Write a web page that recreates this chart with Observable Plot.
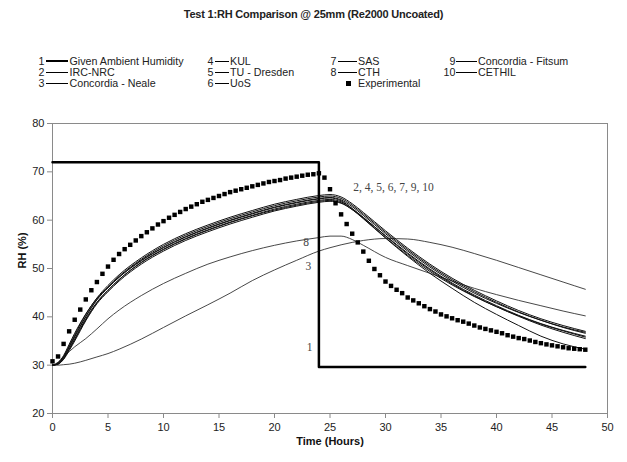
<!DOCTYPE html>
<html>
<head>
<meta charset="utf-8">
<script src="https://cdn.jsdelivr.net/npm/d3@7"></script>
<script src="https://cdn.jsdelivr.net/npm/@observablehq/plot@0.6"></script>
<style>
  html, body { margin: 0; padding: 0; background: #fff; }
  #page { position: relative; width: 627px; height: 462px; overflow: hidden; font-family: "Liberation Sans", Arial, sans-serif; color: #222; }
  #title { position: absolute; left: 0; width: 627px; top: 8px; text-align: center; font-weight: bold; font-size: 11px; letter-spacing: -0.2px; }
  .lg { position: absolute; font-size: 10.7px; line-height: 12px; white-space: nowrap; }
  .ln { position: absolute; height: 0; border-top: 1px solid #000; }
  #chart { position: absolute; left: 0; top: 100px; }
</style>
</head>
<body>
<div id="page">
  <div id="title">Test 1:RH Comparison @ 25mm (Re2000 Uncoated)</div>
  <div id="legend"></div>
  <div id="chart"></div>
</div>
<script>
// ---------- data ----------
const xTicks = [0, 5, 10, 15, 20, 25, 30, 35, 40, 45, 50];
const yTicks = [20, 30, 40, 50, 60, 70, 80];

const legendNums  = ["1", "2", "3", "4", "5", "6", "7", "8", "9", "10"];
const legendNames = ["Given Ambient Humidity", "IRC-NRC", "Concordia - Neale", "KUL", "TU - Dresden", "UoS", "SAS", "CTH", "Concordia - Fitsum", "CETHIL"];
const experimentalName = "Experimental";

// Given ambient humidity (step)
const ambientHours = [0, 24, 24, 48];
const ambientRH    = [72, 72, 29.6, 29.6];

// model time grid (hours)
const modelHours = [0, 0.5, 1, 1.5, 2, 3, 4, 5, 6, 8, 10, 12, 14, 16, 18, 20, 22, 24, 25, 26, 27, 28, 30, 32, 34, 36, 38, 40, 42, 44, 46, 48];

const rhIRC     = [30,30.4,31.8,34,36.3,40.5,43.9,46.5,48.7,52.2,55,57.2,59,60.6,62,63.3,64.3,65.1,65.3,64.8,63.4,61.6,57.8,54.2,50.9,48,45.5,43.3,41.3,39.6,38.2,37];
const rhNeale   = [30,30,30.1,30.2,30.4,31,31.7,32.4,33.3,35.4,37.8,40.2,42.5,44.9,47.5,49.7,51.7,53.6,54.3,54.9,55.4,55.8,56.2,56.1,55.4,54.4,53.1,51.7,50.2,48.7,47.2,45.7];
const rhKUL     = [30,30.2,31.2,33,35,39.2,42.7,45.2,47.4,50.9,53.6,55.8,57.6,59.2,60.6,61.9,62.9,63.7,63.9,63.5,62.2,60.5,56.8,53.2,49.9,47,44.5,42.3,40.3,38.6,37.2,36];
const rhTUD     = [30,30.5,32,34.3,36.6,40.6,43.8,46.1,48.2,51.6,54.3,56.5,58.3,59.9,61.3,62.6,63.6,64.4,64.6,64,62.4,60.4,56.4,52.7,49.4,46.6,44.2,42.1,40.2,38.5,37.1,35.8];
const rhUoS     = [30,30.2,31.3,33.3,35.4,39.6,43,45.5,47.7,51.2,53.9,56.1,57.9,59.5,60.9,62.1,63.1,63.9,64.1,63.6,62.2,60.3,56.3,52.5,49,45.9,43,40.5,38.2,36,34.4,33.3];
const rhSAS     = [30,30.3,31.6,33.7,35.8,40,43.5,46,48.2,51.7,54.4,56.6,58.4,60,61.4,62.7,63.7,64.5,64.7,64.2,62.8,61,57.2,53.6,50.3,47.4,44.9,42.8,40.9,39.3,37.9,36.8];
const rhCTH     = [30,30.6,31.8,32.8,33.8,35.5,37.5,39.6,41.4,44.4,46.9,49,50.9,52.4,53.7,54.8,55.7,56.4,56.7,56.7,56,54.8,52.3,50.6,49,47.4,45.9,44.6,43.4,42.3,41.2,40.2];
const rhFitsum  = [30,30.3,31.4,33.3,35.3,39.4,42.9,45.5,47.7,51.3,54,56.2,58,59.6,61,62.3,63.3,64.1,64.3,63.8,62.4,60.6,56.7,53,49.7,46.8,44.3,42.1,40.1,38.3,36.8,35.5];
const rhCETHIL  = [30,30.4,31.7,33.8,36,40.1,43.6,46.2,48.4,51.9,54.7,56.9,58.7,60.3,61.7,63,64,64.8,65,64.5,63.1,61.3,57.5,53.9,50.6,47.7,45.2,43,41,39.3,37.8,36.6];

// Experimental (every 0.5 h)
const expHours = [0,0.5,1,1.5,2,2.5,3,3.5,4,4.5,5,5.5,6,6.5,7,7.5,8,8.5,9,9.5,10,10.5,11,11.5,12,12.5,13,13.5,14,14.5,15,15.5,16,16.5,17,17.5,18,18.5,19,19.5,20,20.5,21,21.5,22,22.5,23,23.5,24,24.5,25,25.5,26,26.5,27,27.5,28,28.5,29,29.5,30,30.5,31,31.5,32,32.5,33,33.5,34,34.5,35,35.5,36,36.5,37,37.5,38,38.5,39,39.5,40,40.5,41,41.5,42,42.5,43,43.5,44,44.5,45,45.5,46,46.5,47,47.5,48];
const expRH = [30.8,31.8,34.4,37,39.4,41.5,43.6,45.5,47.2,48.9,50.4,51.8,53,54,54.9,55.8,56.7,57.5,58.3,59.1,59.8,60.5,61.1,61.7,62.3,62.8,63.3,63.8,64.2,64.6,65,65.4,65.8,66.1,66.4,66.7,67,67.3,67.6,67.9,68.1,68.3,68.6,68.8,69,69.2,69.4,69.5,69.7,
  68.8,66.4,63.5,61.2,59.2,57.2,55.4,53.5,51.6,49.9,48.6,47.3,46.4,45.6,44.9,44,43.4,42.8,42.2,41.6,41.1,40.5,40.1,39.7,39.3,39,38.6,38.2,37.8,37.5,37.2,36.9,36.6,36.2,35.9,35.6,35.4,35.1,34.8,34.55,34.3,34.1,33.9,33.7,33.5,33.4,33.3,33.2];

// curve annotations (data coordinates)
const noteTexts = ["2, 4, 5, 6, 7, 9, 10", "8", "3", "1"];
const noteHours = [27.1, 22.6, 22.8, 22.9];
const noteRH    = [66.9, 55.4, 50.4, 33.6];

// ---------- build tables ----------
const clusterSeries = [rhIRC, rhKUL, rhTUD, rhUoS, rhSAS, rhFitsum, rhCETHIL];
const toRows = (xs, ys) => xs.map((x, i) => ({x, y: ys[i]}));
const ambient = toRows(ambientHours, ambientRH);
const experimental = toRows(expHours, expRH);
const notes = noteTexts.map((t, i) => ({t, x: noteHours[i], y: noteRH[i]}));

// ---------- legend (HTML above the SVG) ----------
const legend = document.getElementById("legend");
const cols = [
  {numRight: 44.5, l0: 46, l1: 68, tx: 69.5},
  {numRight: 213.5, l0: 215, l1: 229, tx: 230},
  {numRight: 336.5, l0: 337.5, l1: 356.5, tx: 358},
  {numRight: 455.5, l0: 456, l1: 477, tx: 478}
];
const rowsY = [61.5, 72, 83];
const colOf = [0,0,0,1,1,1,2,2,3,3];
const rowOf = [0,1,2,0,1,2,0,1,0,1];
legendNums.forEach((n, i) => {
  const c = cols[colOf[i]], y = rowsY[rowOf[i]];
  const num = document.createElement("div");
  num.className = "lg"; num.textContent = n;
  num.style.right = (627 - c.numRight) + "px"; num.style.top = (y - 6.5) + "px";
  legend.appendChild(num);
  const ln = document.createElement("div");
  ln.className = "ln";
  ln.style.left = c.l0 + "px"; ln.style.width = (c.l1 - c.l0) + "px";
  const w = i === 0 ? 2.5 : 1;
  ln.style.borderTopWidth = w + "px";
  ln.style.top = (y - w / 2) + "px";
  legend.appendChild(ln);
  const tx = document.createElement("div");
  tx.className = "lg"; tx.textContent = legendNames[i];
  tx.style.left = c.tx + "px"; tx.style.top = (y - 6.5) + "px";
  legend.appendChild(tx);
});
{
  const sq = document.createElement("div");
  sq.style.cssText = "position:absolute;left:346px;top:81px;width:5px;height:5px;background:#000;";
  legend.appendChild(sq);
  const tx = document.createElement("div");
  tx.className = "lg"; tx.textContent = experimentalName;
  tx.style.left = "358px"; tx.style.top = (83 - 6.5) + "px";
  legend.appendChild(tx);
}

// ---------- chart ----------
const marks = [
  Plot.frame({stroke: "#8a8a8a"}),
  Plot.axisX({ticks: xTicks, tickSize: 5, tickPadding: 5, stroke: "#8a8a8a", fill: "#222", label: null, fontSize: 11}),
  Plot.axisY({ticks: yTicks, tickSize: 5, tickPadding: 3, stroke: "#8a8a8a", fill: "#222", label: null, fontSize: 11}),
  Plot.line(toRows(modelHours, rhNeale), {x: "x", y: "y", curve: "monotone-x", stroke: "#333", strokeWidth: 0.9}),
  Plot.line(toRows(modelHours, rhCTH), {x: "x", y: "y", curve: "monotone-x", stroke: "#333", strokeWidth: 0.9}),
  ...clusterSeries.map(s => Plot.line(toRows(modelHours, s), {x: "x", y: "y", curve: "monotone-x", stroke: "#111", strokeWidth: 1})),
  Plot.line(ambient, {x: "x", y: "y", stroke: "#000", strokeWidth: 2.5}),
  Plot.dot(experimental, {x: "x", y: "y", symbol: "square", r: 2.5, fill: "#000", stroke: "none"}),
  Plot.text(notes, {x: "x", y: "y", text: "t", textAnchor: "start", fontFamily: "Liberation Serif, serif", fontSize: 11.5, fill: "#444"}),
  Plot.text(["Time (Hours)"], {frameAnchor: "bottom", dy: 31, fontWeight: "bold", fontSize: 11, fill: "#111"}),
  Plot.text(["RH (%)"], {frameAnchor: "left", dx: -30, rotate: -90, fontWeight: "bold", fontSize: 11, fill: "#111"})
];

const chart = Plot.plot({
  width: 627,
  height: 362,
  marginLeft: 52,
  marginRight: 20,
  marginTop: 23,
  marginBottom: 49,
  style: {fontFamily: "Liberation Sans, Arial, sans-serif", fontSize: "11px", background: "white", color: "#222", overflow: "visible"},
  x: {domain: [0, 50]},
  y: {domain: [20, 80]},
  marks
});
document.getElementById("chart").appendChild(chart);
</script>
</body>
</html>
